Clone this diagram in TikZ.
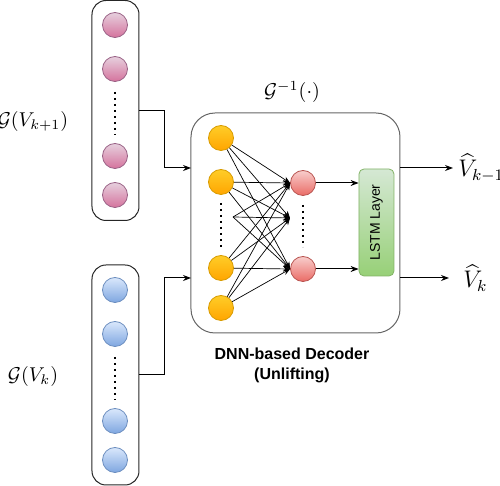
\documentclass[tikz,border=0pt]{standalone}
\usepackage{amsmath}
\usepackage{amsfonts}
\usepackage{fontspec}
\newfontfamily\arialfont{Liberation Sans}
\usetikzlibrary{arrows.meta}
\definecolor{pinkTop}{HTML}{E6D0DE}
\definecolor{pinkBot}{HTML}{D5739D}
\definecolor{pinkLine}{HTML}{996185}
\definecolor{blueTop}{HTML}{DAE8FC}
\definecolor{blueBot}{HTML}{7EA6E0}
\definecolor{blueLine}{HTML}{6C8EBF}
\definecolor{orangeTop}{HTML}{FFCD28}
\definecolor{orangeBot}{HTML}{FFA500}
\definecolor{orangeLine}{HTML}{D79B00}
\definecolor{redTop}{HTML}{F8CECC}
\definecolor{redBot}{HTML}{EA6B66}
\definecolor{redLine}{HTML}{B85450}
\definecolor{greenTop}{HTML}{D5E8D4}
\definecolor{greenBot}{HTML}{97D077}
\definecolor{greenLine}{HTML}{82B366}

\begin{document}
\begin{tikzpicture}[x=0.5pt,y=-0.5pt,
    panel/.style={draw=black!85, line width=0.5pt, rounded corners=7pt, minimum width=23.5pt, minimum height=110pt, inner sep=0pt},
    decbox/.style={draw=black!60, line width=0.5pt, rounded corners=12pt, minimum width=104.5pt, minimum height=110pt, inner sep=0pt},
    neuron/.style={circle, minimum size=12.5pt, inner sep=0pt, line width=0.4pt},
    pinkn/.style={neuron, draw=pinkLine, top color=pinkTop, bottom color=pinkBot},
    bluen/.style={neuron, draw=blueLine, top color=blueTop, bottom color=blueBot},
    orangen/.style={neuron, draw=orangeLine, top color=orangeTop, bottom color=orangeBot},
    redn/.style={neuron, draw=redLine, top color=redTop, bottom color=redBot},
    lstmbox/.style={draw=greenLine, line width=0.4pt, rounded corners=2.5pt, top color=greenTop, bottom color=greenBot, minimum width=17.5pt, minimum height=53.5pt, inner sep=0pt, font=\arialfont\fontsize{7}{8}\selectfont},
    outlabel/.style={anchor=base west, inner ysep=0pt, font=\fontsize{11.5}{13}\selectfont},
    arr/.style={-{Stealth[length=4pt,width=3pt]}, line width=0.5pt},
    net/.style={-{Stealth[length=3.5pt,width=2.8pt]}, line width=0.35pt},
    dots/.style={line width=0.8pt, dash pattern=on 0.8pt off 2.2pt}]
  \useasboundingbox (0,0) rectangle (500,486);

  % entradas
  \node[panel] (enc1) at (115.5,110.5) {};
  \node[panel] (enc2) at (115.5,375) {};
  \foreach \y [count=\i] in {25,69,156,195} \node[pinkn] (p\i) at (115,\y) {};
  \foreach \y [count=\i] in {290,334,421,460} \node[bluen] (b\i) at (115,\y) {};
  \draw[dots] (115,92) -- (115,135);
  \draw[dots] (115,357) -- (115,400);
  \node (gk1) at (33,122) {$\mathcal{G}(V_{k+1})$};
  \node (gk) at (33,377) {$\mathcal{G}(V_k)$};

  % decoder
  \node[decbox] (dec) at (295.5,223) {};
  \node (ginv) at (292,92) {$\mathcal{G}^{-1}(\cdot)$};
  \node[font=\arialfont\bfseries\fontsize{8}{10}\selectfont, align=center] (title) at (292,365) {DNN-based Decoder\\(Unlifting)};
  \coordinate (in1) at (191,168);
  \coordinate (in2) at (191,278);
  \draw[arr] (enc1.east) -- ++(12.5pt,0) |- (in1);
  \draw[arr] (enc2.east) -- ++(12.5pt,0) |- (in2);

  \foreach \y [count=\i] in {138,182,268,308} \node[orangen] (o\i) at (221,\y) {};
  \node[redn] (r1) at (303,183) {};
  \node[redn] (r2) at (303,269) {};
  \coordinate (om) at (233,217);
  \coordinate (rm) at (290,218);
  \draw[dots] (221,203) -- (221,247);
  \draw[dots] (303,205) -- (303,247);
  \foreach \s in {o1,o2,om,o3,o4}
    \foreach \t in {r1.west,rm,r2.west}
      \draw[net] (\s) -- (\t);

  \node[lstmbox] (lstm) at (376.5,222.5) {\rotatebox{90}{LSTM Layer}};
  \draw[arr] (r1) -- (r1 -| lstm.west);
  \draw[arr] (r2) -- (r2 -| lstm.west);

  % salidas
  \node[outlabel, inner xsep=2.5pt] (vk1) at (453,177) {$\widehat{V}_{k-1}$};
  \node[outlabel, inner xsep=7pt] (vk) at (449,288) {$\widehat{V}_k$};
  \coordinate (out1) at (400,168);
  \coordinate (out2) at (400,278);
  \draw[arr] (out1) -- (out1 -| vk1.west);
  \draw[arr] (out2) -- (out2 -| vk.west);
\end{tikzpicture}
\end{document}
